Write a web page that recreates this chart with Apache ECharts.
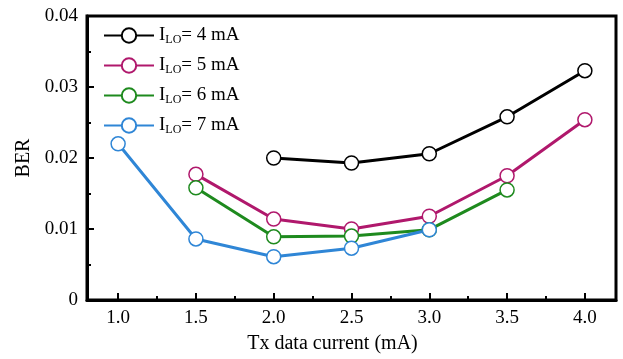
<!DOCTYPE html>
<html>
<head>
<meta charset="utf-8">
<script src="https://cdn.jsdelivr.net/npm/echarts@6/dist/echarts.min.js"></script>
<style>
html, body { margin: 0; padding: 0; background: #fff; }
#chart { width: 623px; height: 359px; }
</style>
</head>
<body>
<div id="chart"></div>
<script>
(function(){
var currents = [4, 5, 6, 7];
var colors = ['#000000', '#b0186c', '#1e8a1e', '#2f86d6'];
var xTicks = [1.0, 1.5, 2.0, 2.5, 3.0, 3.5, 4.0];
var xMinorTicks = [1.25, 1.75, 2.25, 2.75, 3.25, 3.75];

// BER per Tx data current, one array per I_LO
var txLO4 = [2.0, 2.5, 3.0, 3.5, 4.0];
var berLO4 = [0.0200, 0.0193, 0.0206, 0.0258, 0.0323];
var txLO5 = [1.5, 2.0, 2.5, 3.0, 3.5, 4.0];
var berLO5 = [0.0177, 0.0114, 0.0100, 0.0118, 0.0175, 0.0254];
var txLO6 = [1.5, 2.0, 2.5, 3.0, 3.5];
var berLO6 = [0.0158, 0.0089, 0.0090, 0.0099, 0.0155];
var txLO7 = [1.0, 1.5, 2.0, 2.5, 3.0];
var berLO7 = [0.0220, 0.0086, 0.0061, 0.0073, 0.0099];

var xs = [txLO4, txLO5, txLO6, txLO7];
var ys = [berLO4, berLO5, berLO6, berLO7];

var font = 'Liberation Serif';
var names = currents.map(function(c){ return 'I_LO= ' + c + ' mA'; });

var series = names.map(function(n, i){
  return {
    name: n,
    type: 'line',
    data: xs[i].map(function(x, j){ return [x, ys[i][j]]; }),
    symbol: 'circle',
    symbolSize: 14,
    z: 3,
    lineStyle: { color: colors[i], width: 3 },
    itemStyle: { color: '#fff', borderColor: colors[i], borderWidth: 1.5 }
  };
});

var myChart = echarts.init(document.getElementById('chart'));
var option = {
  animation: false,
  grid: { left: 87, right: 7, top: 16, bottom: 59, show: true, borderColor: '#000', borderWidth: 3 },
  legend: {
    orient: 'vertical',
    left: 98,
    top: 21,
    itemWidth: 50,
    itemHeight: 18,
    itemGap: 10,
    formatter: function(name){
      var rest = name.split('_LO')[1];
      return '{a|I}{s|LO}{a|' + rest + '}';
    },
    textStyle: {
      fontFamily: font,
      fontSize: 19,
      color: '#000',
      rich: {
        a: { fontFamily: font, fontSize: 19, color: '#000' },
        s: { fontFamily: font, fontSize: 12, color: '#000', padding: [9, 0, 0, 0] }
      }
    }
  },
  xAxis: [{
    type: 'value',
    min: 0.8,
    max: 4.2,
    name: 'Tx data current (mA)',
    nameLocation: 'middle',
    nameGap: 34,
    nameTextStyle: { fontFamily: font, fontSize: 20, color: '#000', padding: [0, 38, 0, 0] },
    axisLine: { lineStyle: { color: '#000', width: 3 } },
    axisTick: { inside: true, length: 7, lineStyle: { width: 2 }, customValues: xTicks },
    axisLabel: { fontFamily: font, fontSize: 19, color: '#000', margin: 9,
      customValues: xTicks, formatter: function(v){ return v.toFixed(1); } },
    splitLine: { show: false }
  }, {
    type: 'value',
    min: 0.8,
    max: 4.2,
    position: 'bottom',
    offset: 0,
    axisLine: { show: false },
    axisTick: { inside: true, length: 4, lineStyle: { width: 2, color: '#000' }, customValues: xMinorTicks },
    axisLabel: { show: false },
    splitLine: { show: false }
  }],
  yAxis: {
    type: 'value',
    min: 0,
    max: 0.04,
    interval: 0.01,
    name: 'BER',
    nameLocation: 'middle',
    nameGap: 52,
    nameTextStyle: { fontFamily: font, fontSize: 20, color: '#000', padding: [0, 0, 0, 0] },
    axisLine: { show: true, lineStyle: { color: '#000', width: 3 } },
    axisTick: { show: true, inside: true, length: 7, lineStyle: { width: 2 } },
    minorTick: { show: true, splitNumber: 2, length: 4, lineStyle: { color: '#000', width: 2 } },
    axisLabel: { fontFamily: font, fontSize: 19, color: '#000', margin: 9,
      formatter: function(v){ return v === 0 ? '0' : v.toFixed(2); } },
    splitLine: { show: false }
  },
  series: series
};
myChart.setOption(option);
window.addEventListener('resize', function(){ myChart.resize(); });
})();
</script>
</body>
</html>
